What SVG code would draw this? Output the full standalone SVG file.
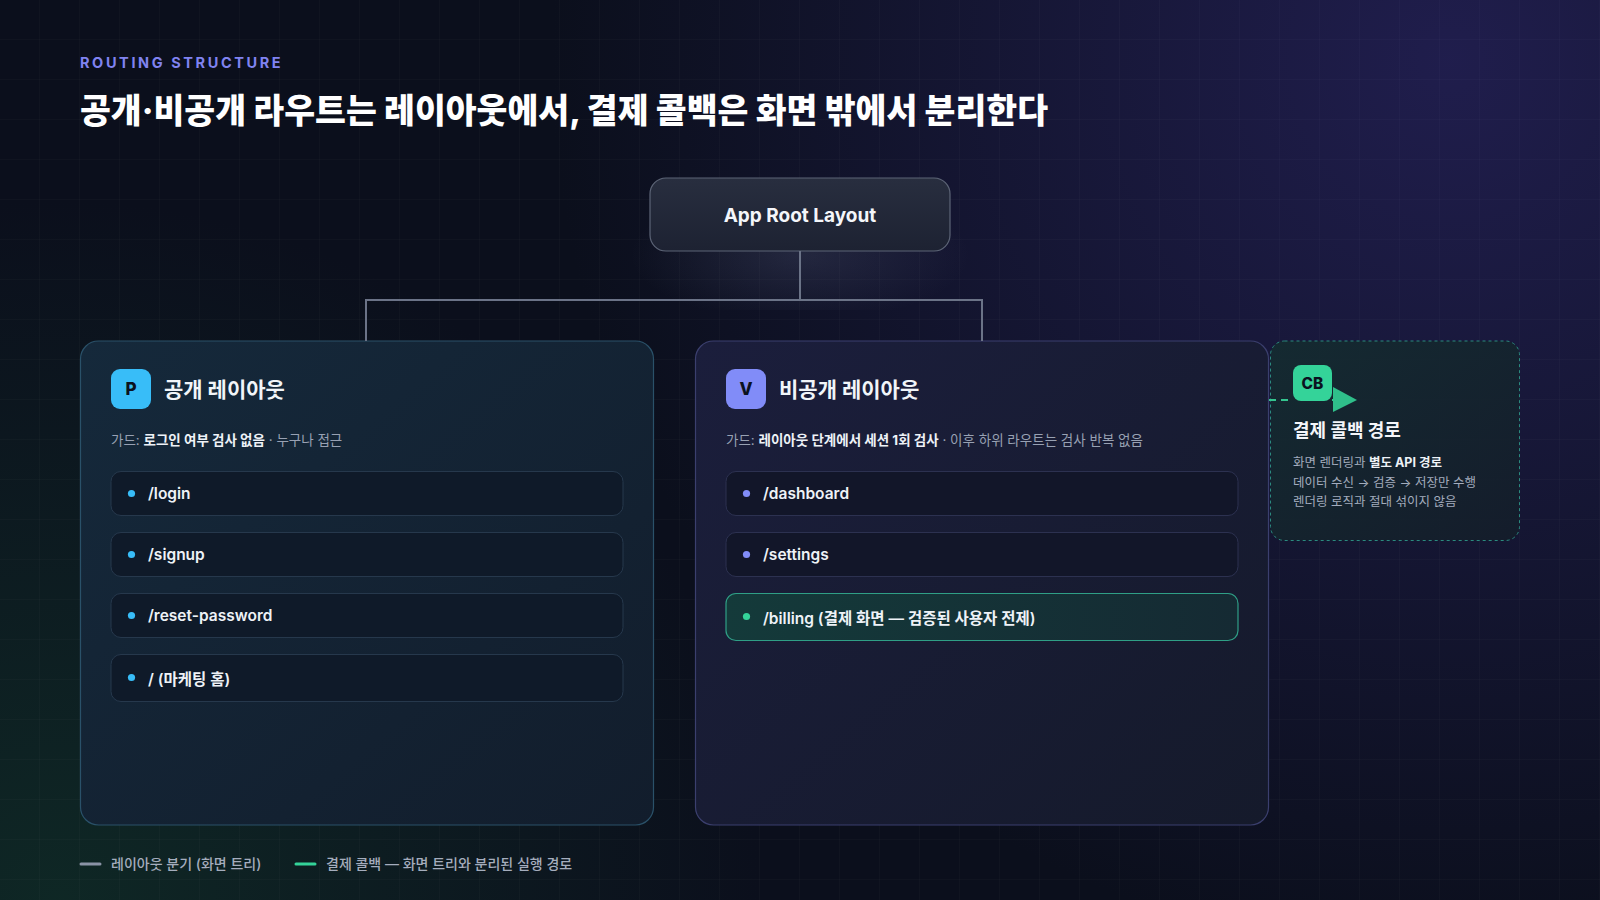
<svg xmlns="http://www.w3.org/2000/svg" width="1600" height="900" viewBox="0 0 1600 900">
  <defs>
    <style>
      .f { font-family: "Inter", "Noto Sans CJK KR", "Noto Sans", sans-serif; }
      .ptitle { font-size: 21px; font-weight: 700; fill: #f1f5f9; }
      .guard { font-size: 13.5px; fill: #98a1b3; }
      .guard .b { font-weight: 700; fill: #eef2f7; }
      .item { fill: #0f1a29; stroke: #26384c; stroke-width: 1; }
      .itemR { fill: #121629; stroke: #2c3150; stroke-width: 1; }
      .itxt { font-size: 15.5px; font-weight: 600; fill: #eef2f7; }
      .badge { font-size: 17px; font-weight: 800; fill: #0b1220; }
      .conn { stroke: #6b7387; stroke-width: 2; fill: none; }
      .desc { font-size: 12.5px; fill: #a3acbd; }
      .legend { font-size: 14px; font-weight: 500; fill: #a5adbd; }
    </style>
    <pattern id="grid" width="40" height="40" patternUnits="userSpaceOnUse">
      <path d="M40 0 V40 M0 40 H40" stroke="#ffffff" stroke-opacity="0.035" stroke-width="1" fill="none"/>
    </pattern>
    <radialGradient id="bgPurple" cx="1450" cy="60" r="900" gradientUnits="userSpaceOnUse">
      <stop offset="0" stop-color="#221f52" stop-opacity="0.9"/>
      <stop offset="1" stop-color="#221f52" stop-opacity="0"/>
    </radialGradient>
    <radialGradient id="bgGreen" cx="60" cy="900" r="700" gradientUnits="userSpaceOnUse">
      <stop offset="0" stop-color="#0f2a26" stop-opacity="0.9"/>
      <stop offset="1" stop-color="#0f2a26" stop-opacity="0"/>
    </radialGradient>
    <radialGradient id="glow" cx="800" cy="255" r="170" gradientUnits="userSpaceOnUse" gradientTransform="translate(0 255) scale(1 0.4) translate(0 -255)">
      <stop offset="0" stop-color="#8a94b8" stop-opacity="0.16"/>
      <stop offset="1" stop-color="#8a94b8" stop-opacity="0"/>
    </radialGradient>
    <linearGradient id="rootFill" x1="0" y1="0" x2="0" y2="1">
      <stop offset="0" stop-color="#282e3f"/>
      <stop offset="1" stop-color="#1d2232"/>
    </linearGradient>
    <linearGradient id="pubFill" x1="0" y1="0" x2="1" y2="1">
      <stop offset="0" stop-color="#15293b"/>
      <stop offset="1" stop-color="#121d2c"/>
    </linearGradient>
    <linearGradient id="privFill" x1="0" y1="0" x2="1" y2="1">
      <stop offset="0" stop-color="#1b1e3c"/>
      <stop offset="1" stop-color="#151a2b"/>
    </linearGradient>
    <linearGradient id="cbFill" x1="0" y1="0" x2="1" y2="1">
      <stop offset="0" stop-color="#142c30"/>
      <stop offset="1" stop-color="#141d2a"/>
    </linearGradient>
    <linearGradient id="billFill" x1="0" y1="0" x2="1" y2="0">
      <stop offset="0" stop-color="#143a3a"/>
      <stop offset="1" stop-color="#152a33"/>
    </linearGradient>
  </defs>

  <!-- background -->
  <rect width="1600" height="900" fill="#0b0f1c"/>
  <rect width="1600" height="900" fill="url(#bgPurple)"/>
  <rect width="1600" height="900" fill="url(#bgGreen)"/>
  <rect width="1600" height="900" fill="url(#grid)"/>

  <!-- header -->
  <g id="header" class="f">
    <text x="80" y="68" font-size="14.5" font-weight="700" letter-spacing="2.6" fill="#8083f0">ROUTING STRUCTURE</text>
    <text x="80" y="123" font-size="34" font-weight="800" fill="#ffffff" textLength="968" lengthAdjust="spacingAndGlyphs">공개·비공개 라우트는 레이아웃에서, 결제 콜백은 화면 밖에서 분리한다</text>
  </g>

  <!-- root -->
  <g id="node-root" class="f">
    <rect x="620" y="220" width="360" height="90" fill="url(#glow)"/>
    <rect x="650" y="178" width="300" height="73" rx="16" fill="url(#rootFill)" stroke="#5d6577" stroke-width="1.2"/>
    <text x="800" y="222" text-anchor="middle" font-size="19" font-weight="700" fill="#f4f6fa">App Root Layout</text>
  </g>

  <!-- public layout -->
  <g id="node-public" class="f">
    <rect x="80.5" y="341" width="573" height="484" rx="18" fill="url(#pubFill)" stroke="#2a5169" stroke-width="1.2"/>
    <rect x="111" y="369" width="40" height="40" rx="9" fill="#38bdf8"/>
    <text x="131" y="395" text-anchor="middle" class="badge">P</text>
    <text x="164" y="397" class="ptitle">공개 레이아웃</text>
    <text x="111" y="445" class="guard">가드: <tspan class="b">로그인 여부 검사 없음</tspan> · 누구나 접근</text>
  </g>
  <g id="route-login" class="f">
    <rect class="item" x="111" y="471.5" width="512" height="44" rx="10"/>
    <circle cx="131.5" cy="493.5" r="3.6" fill="#38bdf8"/>
    <text x="148" y="499" class="itxt">/login</text>
  </g>
  <g id="route-signup" class="f">
    <rect class="item" x="111" y="532.5" width="512" height="44" rx="10"/>
    <circle cx="131.5" cy="554.5" r="3.6" fill="#38bdf8"/>
    <text x="148" y="560" class="itxt">/signup</text>
  </g>
  <g id="route-reset" class="f">
    <rect class="item" x="111" y="593.5" width="512" height="44" rx="10"/>
    <circle cx="131.5" cy="615.5" r="3.6" fill="#38bdf8"/>
    <text x="148" y="621" class="itxt">/reset-password</text>
  </g>
  <g id="route-home" class="f">
    <rect class="item" x="111" y="654.5" width="512" height="47" rx="10"/>
    <circle cx="131.5" cy="677.5" r="3.6" fill="#38bdf8"/>
    <text x="148" y="684.5" class="itxt">/ (마케팅 홈)</text>
  </g>

  <!-- private layout -->
  <g id="node-private" class="f">
    <rect x="695.5" y="341" width="573" height="484" rx="18" fill="url(#privFill)" stroke="#3b3f6e" stroke-width="1.2"/>
    <rect x="726" y="369" width="40" height="40" rx="9" fill="#818cf8"/>
    <text x="746" y="395" text-anchor="middle" class="badge">V</text>
    <text x="779" y="397" class="ptitle">비공개 레이아웃</text>
    <text x="726" y="445" class="guard">가드: <tspan class="b">레이아웃 단계에서 세션 1회 검사</tspan> · 이후 하위 라우트는 검사 반복 없음</text>
  </g>
  <g id="route-dashboard" class="f">
    <rect class="itemR" x="726" y="471.5" width="512" height="44" rx="10"/>
    <circle cx="746.5" cy="493.5" r="3.6" fill="#818cf8"/>
    <text x="763" y="499" class="itxt">/dashboard</text>
  </g>
  <g id="route-settings" class="f">
    <rect class="itemR" x="726" y="532.5" width="512" height="44" rx="10"/>
    <circle cx="746.5" cy="554.5" r="3.6" fill="#818cf8"/>
    <text x="763" y="560" class="itxt">/settings</text>
  </g>
  <g id="route-billing" class="f">
    <rect x="726" y="593.5" width="512" height="47" rx="10" fill="url(#billFill)" stroke="#2f9f86" stroke-width="1.2"/>
    <circle cx="746.5" cy="616.5" r="3.6" fill="#34d399"/>
    <text x="763" y="623.5" class="itxt">/billing (결제 화면 — 검증된 사용자 전제)</text>
  </g>

  <!-- callback -->
  <g id="node-callback" class="f">
    <rect x="1270.5" y="341" width="249" height="199.5" rx="14" fill="url(#cbFill)" fill-opacity="0.9" stroke="#2b8a7f" stroke-width="1" stroke-dasharray="3 3"/>
    <rect x="1293" y="365" width="39" height="36" rx="8" fill="#34d399"/>
    <text x="1312.5" y="388.5" text-anchor="middle" font-size="15.5" font-weight="800" fill="#0b1220">CB</text>
    <text x="1293" y="437" font-size="18" font-weight="700" fill="#f4f6fa">결제 콜백 경로</text>
    <text x="1293" y="467" class="desc">화면 렌더링과 <tspan font-weight="700" fill="#eef2f7">별도 API 경로</tspan></text>
    <text x="1293" y="486.5" class="desc">데이터 수신 → 검증 → 저장만 수행</text>
    <text x="1293" y="506" class="desc">렌더링 로직과 절대 섞이지 않음</text>
  </g>

  <!-- connectors -->
  <g id="connectors">
    <path class="conn" d="M800 251 V300 M366 341 V300 H982 V341"/>
    <line x1="1269" y1="400" x2="1292" y2="400" stroke="#34c58f" stroke-width="2" stroke-dasharray="7 5"/>
    <line x1="1332" y1="400" x2="1336" y2="400" stroke="#34c58f" stroke-width="2"/>
    <polygon points="1333,387 1357,400 1333,412" fill="#2fbf8a"/>
  </g>

  <!-- legend -->
  <g id="legend" class="f">
    <line x1="81" y1="864" x2="100" y2="864" stroke="#8a93a6" stroke-width="3" stroke-linecap="round"/>
    <text x="111" y="869" class="legend">레이아웃 분기 (화면 트리)</text>
    <line x1="296" y1="864" x2="315" y2="864" stroke="#34d399" stroke-width="3" stroke-linecap="round"/>
    <text x="326" y="869" class="legend">결제 콜백 — 화면 트리와 분리된 실행 경로</text>
  </g>
</svg>
